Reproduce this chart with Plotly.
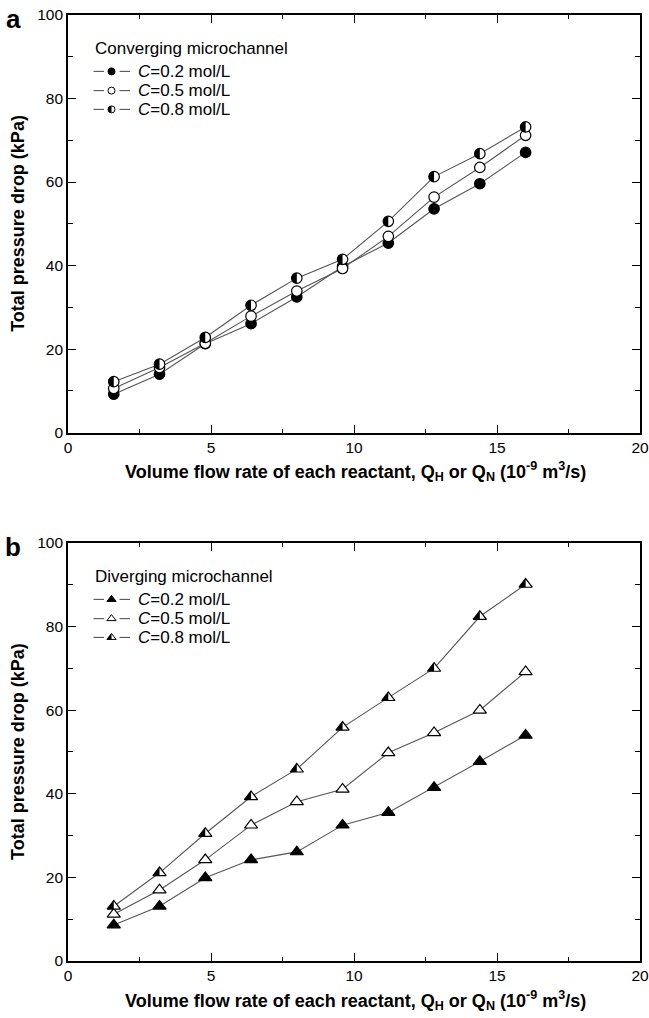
import math
import plotly.graph_objects as go

# ---------------- data ----------------
flow_rate = [1.6, 3.2, 4.8, 6.4, 8.0, 9.6, 11.2, 12.8, 14.4, 16.0]

conv_c02 = [9.2, 14.0, 21.3, 26.1, 32.5, 39.8, 45.4, 53.6, 59.6, 67.1]
conv_c05 = [10.6, 15.6, 21.4, 27.9, 33.9, 39.3, 47.0, 56.4, 63.5, 71.2]
conv_c08 = [12.2, 16.4, 22.8, 30.5, 37.0, 41.5, 50.6, 61.3, 66.8, 73.2]

div_c02 = [8.6, 13.1, 19.9, 24.2, 26.1, 32.5, 35.5, 41.5, 47.7, 54.0]
div_c05 = [11.2, 17.0, 24.2, 32.5, 38.1, 41.1, 49.8, 54.6, 60.0, 69.2]
div_c08 = [13.1, 21.1, 30.5, 39.3, 45.9, 55.9, 63.0, 70.0, 82.4, 90.1]

series_names = ["C=0.2 mol/L", "C=0.5 mol/L", "C=0.8 mol/L"]
legend_labels = ["<i>C</i>=0.2 mol/L", "<i>C</i>=0.5 mol/L", "<i>C</i>=0.8 mol/L"]
panel_titles = ["Converging microchannel", "Diverging microchannel"]
panel_letters = ["a", "b"]
x_ticks = [0, 5, 10, 15, 20]
y_ticks = [0, 20, 40, 60, 80, 100]
x_title = "Volume flow rate of each reactant, Q<sub>H</sub> or Q<sub>N</sub> (10<sup>-9</sup> m<sup>3</sup>/s)"
y_title = "Total pressure drop (kPa)"

# ---------------- style ----------------
FONT = "Liberation Sans, Arial, sans-serif"
LINE_COLOR = "#555555"
CIRCLE_SIZE = 10.5
TRI_SIZE = 11.5
LEG_CIRCLE = 7
LEG_TRI = 8
L, R, T, B = 68, 9, 15, 57
PLOT_W = 649 - L - R

fig = go.Figure()


def half_circle_path(r, n=24):
    pts = []
    for i in range(n + 1):
        a = math.pi / 2 + math.pi * i / n  # top -> left -> bottom
        pts.append((r * math.cos(a), r * math.sin(a)))
    return "M " + " L ".join(f"{px:.2f},{py:.2f}" for px, py in pts) + " Z"


def half_tri_path(s):
    r = s / 2
    rt = r * 2 / math.sqrt(3)
    r2 = r / 2
    return f"M {-rt:.2f},{-r2:.2f} L 0,{-r2:.2f} L 0,{r:.2f} Z"


def tri_path(s):
    r = s / 2
    rt = r * 2 / math.sqrt(3)
    r2 = r / 2
    return f"M {-rt:.2f},{-r2:.2f} L {rt:.2f},{-r2:.2f} L 0,{r:.2f} Z"


panels = [
    dict(xa="x", ya="y", data=[conv_c02, conv_c05, conv_c08], sym="circle", size=CIRCLE_SIZE, xt=-0.094),
    dict(xa="x2", ya="y2", data=[div_c02, div_c05, div_c08], sym="triangle-up", size=TRI_SIZE, xt=-0.094),
]

shapes = []
annotations = []


def px_to_dom(px):
    return (px - L) / PLOT_W


for pi, p in enumerate(panels):
    for si, vals in enumerate(p["data"]):
        fill = "black" if si == 0 else "white"
        fig.add_trace(go.Scatter(
            x=flow_rate, y=vals, mode="lines+markers", name=series_names[si],
            xaxis=p["xa"], yaxis=p["ya"], showlegend=False, cliponaxis=False,
            line=dict(color=LINE_COLOR, width=1.1),
            marker=dict(symbol=p["sym"], size=p["size"], color=fill,
                        line=dict(color="black", width=1.2)),
        ))
        if si == 2:
            path = half_circle_path(p["size"] / 2) if p["sym"] == "circle" else half_tri_path(p["size"])
            for xv, yv in zip(flow_rate, vals):
                shapes.append(dict(type="path", xref=p["xa"], yref=p["ya"],
                                   xsizemode="pixel", ysizemode="pixel",
                                   xanchor=xv, yanchor=yv, path=path,
                                   fillcolor="black", line=dict(width=0)))

    xd = p["xa"] + " domain"
    yd = p["ya"] + " domain"
    # legend title
    annotations.append(dict(text=panel_titles[pi], xref=xd, yref=yd, x=px_to_dom(93), y=0.92,
                            xanchor="left", yanchor="middle", showarrow=False,
                            font=dict(family=FONT, size=17, color="black")))
    leg_y = [0.865, 0.819, 0.774]
    mx = px_to_dom(111.5)
    for si in range(3):
        yy = leg_y[si]
        for (a, b) in [(93.5, 104), (119.5, 130)]:
            shapes.append(dict(type="line", xref=xd, yref=yd, x0=px_to_dom(a), x1=px_to_dom(b),
                               y0=yy, y1=yy, line=dict(color=LINE_COLOR, width=1.1)))
        fill = "black" if si == 0 else "white"
        if p["sym"] == "circle":
            r = LEG_CIRCLE / 2
            shapes.append(dict(type="circle", xref=xd, yref=yd, xsizemode="pixel", ysizemode="pixel",
                               xanchor=mx, yanchor=yy, x0=-r, x1=r, y0=-r, y1=r,
                               fillcolor=fill, line=dict(color="black", width=1)))
            if si == 2:
                shapes.append(dict(type="path", xref=xd, yref=yd, xsizemode="pixel", ysizemode="pixel",
                                   xanchor=mx, yanchor=yy, path=half_circle_path(r),
                                   fillcolor="black", line=dict(width=0)))
        else:
            shapes.append(dict(type="path", xref=xd, yref=yd, xsizemode="pixel", ysizemode="pixel",
                               xanchor=mx, yanchor=yy, path=tri_path(LEG_TRI),
                               fillcolor=fill, line=dict(color="black", width=1)))
            if si == 2:
                shapes.append(dict(type="path", xref=xd, yref=yd, xsizemode="pixel", ysizemode="pixel",
                                   xanchor=mx, yanchor=yy, path=half_tri_path(LEG_TRI),
                                   fillcolor="black", line=dict(width=0)))
        annotations.append(dict(text=legend_labels[si], xref=xd, yref=yd, x=px_to_dom(136), y=yy,
                                xanchor="left", yanchor="middle", showarrow=False,
                                font=dict(family=FONT, size=17, color="black")))
    # axis titles
    annotations.append(dict(text=y_title, xref="paper", yref=yd, x=px_to_dom(18), y=0.5,
                            textangle=-90, xanchor="center", yanchor="middle", showarrow=False,
                            font=dict(family=FONT, size=18, color="black", weight="bold")))
    annotations.append(dict(text=x_title, xref="paper", yref=yd, x=px_to_dom(355), y=p["xt"],
                            xanchor="center", yanchor="middle", showarrow=False,
                            font=dict(family=FONT, size=18, color="black", weight="bold")))
    # panel letter
    annotations.append(dict(text=panel_letters[pi], xref="paper", yref=yd, x=px_to_dom(13),
                            y=1.0 - (4 / 417.7), xanchor="center", yanchor="middle", showarrow=False,
                            font=dict(family=FONT, size=26, color="black", weight="bold")))

common_x = dict(range=[0, 20], tickvals=x_ticks, ticks="inside", ticklen=8, tickwidth=1.3,
                tickcolor="black", showline=True, linecolor="black", linewidth=1.6, mirror="ticks",
                showgrid=False, zeroline=False, automargin=False, ticklabeloverflow="allow",
                tickfont=dict(family=FONT, size=15.5, color="black"),
                minor=dict(dtick=2.5, ticks="inside", ticklen=4, tickwidth=1.3, tickcolor="black"))
common_y = dict(range=[0, 100], tickvals=y_ticks, ticks="inside", ticklen=8, tickwidth=1.3,
                tickcolor="black", showline=True, linecolor="black", linewidth=1.6, mirror="ticks",
                showgrid=False, zeroline=False, automargin=False, ticklabeloverflow="allow",
                tickfont=dict(family=FONT, size=15.5, color="black"),
                minor=dict(dtick=10, ticks="inside", ticklen=5, tickwidth=1.3, tickcolor="black"))

fig.update_layout(
    width=649, height=1018,
    margin=dict(l=L, r=R, t=T, b=B, autoexpand=False),
    paper_bgcolor="white", plot_bgcolor="white",
    showlegend=False,
    hovermode=False,
    xaxis=dict(**common_x, anchor="y", domain=[0, 1]),
    yaxis=dict(**common_y, anchor="x", domain=[0.5585, 1.0]),
    xaxis2=dict(**common_x, anchor="y2", domain=[0, 1]),
    yaxis2=dict(**common_y, anchor="x2", domain=[0.0, 0.4419]),
    shapes=shapes,
    annotations=annotations,
    font=dict(family=FONT, color="black"),
)

# remove the default 8px page margin so the figure starts at the window's corner
fig.write_html("out.html",
               config={"displayModeBar": False},
               post_script="document.body.style.margin='0';document.body.style.padding='0';")
